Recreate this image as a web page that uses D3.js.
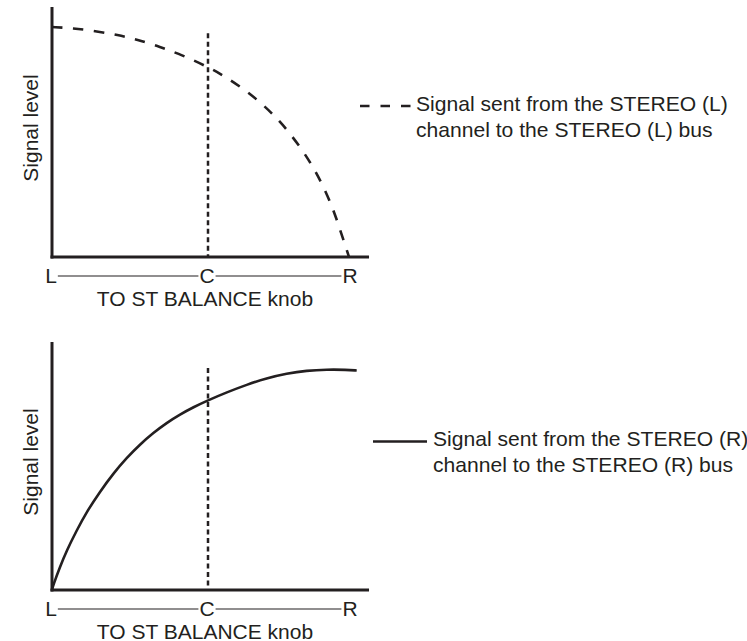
<!DOCTYPE html>
<html><head><meta charset="utf-8">
<script src="https://cdn.jsdelivr.net/npm/d3@7"></script>
<style>html,body{margin:0;padding:0;background:#fff}svg{display:block}</style>
</head><body><svg id="c" width="747" height="641"></svg>
<script>
// ---------- data ----------
const knobTicks = [-1, 0, 1];
const knobLabels = ["L", "C", "R"];
const axisTitle = "TO ST BALANCE knob";
const levelTitle = "Signal level";
const centerMarkerLevel = 0.895;

// STEREO (L) channel -> STEREO (L) bus (dashed)
const leftKnob  = [-1, -0.865, -0.724, -0.577, -0.455, -0.308, -0.167, 0, 0.105, 0.238, 0.364, 0.469, 0.559, 0.657, 0.734, 0.804, 0.874, 0.916, 0.951, 0.986];
const leftLevel = [0.92, 0.915, 0.904, 0.888, 0.870, 0.841, 0.808, 0.760, 0.727, 0.677, 0.620, 0.563, 0.505, 0.430, 0.361, 0.286, 0.194, 0.122, 0.062, 0];

// STEREO (R) channel -> STEREO (R) bus (solid)
const rightKnob  = [-1, -0.992, -0.949, -0.906, -0.842, -0.778, -0.692, -0.607, -0.521, -0.436, -0.350, -0.265, -0.179, -0.094, 0, 0.131, 0.271, 0.410, 0.550, 0.690, 0.830, 0.970, 1.040];
const rightLevel = [0, 0.020, 0.093, 0.159, 0.240, 0.315, 0.397, 0.470, 0.533, 0.587, 0.634, 0.674, 0.708, 0.737, 0.765, 0.797, 0.828, 0.854, 0.873, 0.885, 0.889, 0.888, 0.885];

const legendLeft  = ["Signal sent from the STEREO (L)", "channel to the STEREO (L) bus"];
const legendRight = ["Signal sent from the STEREO (R)", "channel to the STEREO (R) bus"];

// ---------- drawing ----------
const INK = "#231f20";
const FONT = "'Liberation Sans', Arial, Helvetica, sans-serif";
const svg = d3.select("#c");
svg.append("rect").attr("width", 747).attr("height", 641).attr("fill", "#fff");

function panel(cfg) {
  const x = d3.scaleLinear().domain([-1, 0, 1]).range([52, 208, 351]);
  const y = d3.scaleLinear().domain([0, 1]).range([cfg.bottom, cfg.top]);
  const g = svg.append("g");

  // center (C) marker
  g.append("line")
    .attr("x1", x(0)).attr("x2", x(0))
    .attr("y1", y(centerMarkerLevel)).attr("y2", y(0))
    .attr("stroke", INK).attr("stroke-width", 2.5)
    .attr("stroke-dasharray", "5 3.5");

  // curve
  const pts = cfg.knob.map((k, i) => [k, cfg.level[i]]);
  g.append("path")
    .datum(pts)
    .attr("fill", "none")
    .attr("stroke", INK)
    .attr("stroke-width", 2.6)
    .attr("stroke-dasharray", cfg.dash || null)
    .attr("d", d3.line().x(d => x(d[0])).y(d => y(d[1])).curve(d3.curveBasis));

  // axes
  g.append("line")
    .attr("x1", x(-1)).attr("x2", x(-1))
    .attr("y1", y(1)).attr("y2", y(0) + 1.5)
    .attr("stroke", INK).attr("stroke-width", 3);
  g.append("line")
    .attr("x1", x(-1) - 1.5).attr("x2", x(1.126))
    .attr("y1", y(0)).attr("y2", y(0))
    .attr("stroke", INK).attr("stroke-width", 3);

  // y title
  g.append("text")
    .attr("transform", `translate(38,${(cfg.top + cfg.bottom) / 2 - 4}) rotate(-90)`)
    .attr("text-anchor", "middle")
    .attr("font-family", FONT).attr("font-size", 21).attr("fill", INK)
    .text(levelTitle);

  // knob labels row
  const base = cfg.bottom + 26;
  const labs = g.selectAll("text.k").data(knobTicks).enter().append("text")
    .attr("class", "k")
    .attr("x", d => x(d) - 1).attr("y", base)
    .attr("text-anchor", "middle")
    .attr("font-family", FONT).attr("font-size", 21).attr("fill", INK)
    .text((d, i) => knobLabels[i]);
  const boxes = labs.nodes().map(n => n.getBBox());
  for (let i = 0; i < boxes.length - 1; i++) {
    g.append("line")
      .attr("x1", boxes[i].x + boxes[i].width + 1)
      .attr("x2", boxes[i + 1].x - 1)
      .attr("y1", base - 7).attr("y2", base - 7)
      .attr("stroke", INK).attr("stroke-width", 1.2);
  }

  // x title
  g.append("text")
    .attr("x", x(0) - 3).attr("y", cfg.bottom + 48.5)
    .attr("text-anchor", "middle")
    .attr("font-family", FONT).attr("font-size", 21).attr("fill", INK)
    .text(axisTitle);

  // legend
  const lg = svg.append("g");
  lg.append("line")
    .attr("x1", cfg.legX1).attr("x2", cfg.legX2)
    .attr("y1", cfg.legY).attr("y2", cfg.legY)
    .attr("stroke", INK).attr("stroke-width", 2.6)
    .attr("stroke-dasharray", cfg.legDash || null);
  cfg.legend.forEach((t, i) => {
    lg.append("text")
      .attr("x", cfg.legTextX).attr("y", cfg.legBase + i * 26.5)
      .attr("font-family", FONT).attr("font-size", 21.1).attr("fill", INK)
      .text(t);
  });
}

panel({top: 7, bottom: 257, knob: leftKnob, level: leftLevel, dash: "10.5 10.5",
       legend: legendLeft, legX1: 360, legX2: 411, legY: 106, legDash: "9.5 11",
       legTextX: 416, legBase: 110.5});
panel({top: 342, bottom: 590, knob: rightKnob, level: rightLevel, dash: null,
       legend: legendRight, legX1: 373, legX2: 427, legY: 441.5, legDash: null,
       legTextX: 433, legBase: 445.5});
</script>
</body></html>
